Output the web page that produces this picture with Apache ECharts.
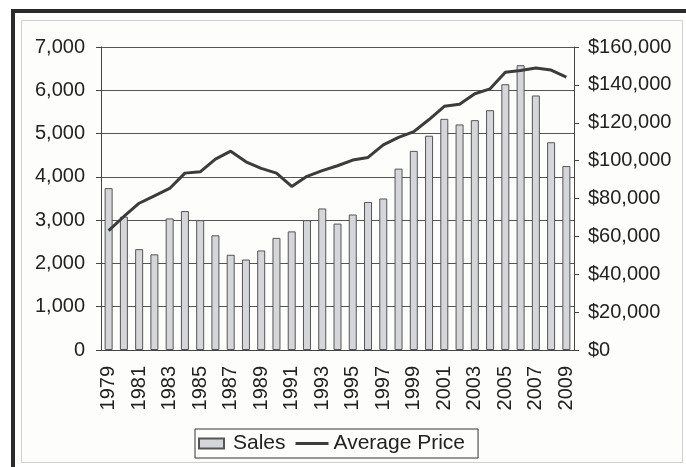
<!DOCTYPE html>
<html>
<head>
<meta charset="utf-8">
<script src="https://cdn.jsdelivr.net/npm/echarts@6/dist/echarts.min.js"></script>
<style>
html,body{margin:0;padding:0;background:#fff;}
#chart{width:686px;height:467px;}
</style>
</head>
<body>
<div id="chart"></div>
<script>
const years = ['1979','1980','1981','1982','1983','1984','1985','1986','1987','1988','1989','1990','1991','1992','1993','1994','1995','1996','1997','1998','1999','2000','2001','2002','2003','2004','2005','2006','2007','2008','2009'];
const sales = [3740,3080,2330,2210,3040,3210,3000,2650,2200,2090,2300,2590,2740,3000,3270,2920,3130,3420,3500,4190,4600,4950,5340,5210,5310,5540,6140,6580,5880,4800,4250];
const avgPrice = [63000,70500,77500,81400,85300,93400,94100,100800,105000,99400,95900,93400,86400,91700,94700,97300,100300,101700,108300,112300,115300,121700,128700,129800,135300,137900,146700,147600,148900,147800,144100];
const salesTicks = {min:0, max:7000, interval:1000};
const priceTicks = {min:0, max:160000, interval:20000};

const fmt = v => String(v).replace(/\B(?=(\d{3})+(?!\d))/g, ',');
const FONT = '"Liberation Sans", Arial, sans-serif';

const chart = echarts.init(document.getElementById('chart'), null, {renderer:'canvas'});
chart.setOption({
  animation:false,
  backgroundColor:'#ffffff',
  graphic:[
    {type:'rect', z:-10, shape:{x:11,y:9,width:680,height:4}, style:{fill:'#2b2b2b'}},
    {type:'rect', z:-10, shape:{x:11,y:9,width:4,height:470}, style:{fill:'#2b2b2b'}},
    {type:'rect', z:-10, shape:{x:21.5,y:20.5,width:661,height:442}, style:{fill:'#fdfdfb', stroke:'#cfcfcf', lineWidth:1}}
  ],
  grid:{left:101, right:112, top:47, bottom:117, containLabel:false},
  legend:{
    bottom:9, left:195,
    padding:[4,13,4,3],
    borderColor:'#333', borderWidth:1,
    itemWidth:33, itemHeight:10, itemGap:10,
    textStyle:{fontFamily:FONT, fontSize:21, color:'#222'},
    data:[
      {name:'Sales', icon:'path://M0,0L25,0L25,10L0,10Z'},
      {name:'Average Price', icon:'path://M0,0L33,0L33,3L0,3Z'}
    ]
  },
  xAxis:{
    type:'category', data:years, boundaryGap:true,
    axisLine:{lineStyle:{color:'#444', width:1}},
    axisTick:{interval:0, length:5, lineStyle:{color:'#444'}},
    axisLabel:{interval:1, rotate:90, margin:16, fontFamily:FONT, fontSize:20, color:'#222'},
    splitLine:{show:false}
  },
  yAxis:[
    {type:'value', min:salesTicks.min, max:salesTicks.max, interval:salesTicks.interval, position:'left',
     axisLine:{show:true, lineStyle:{color:'#444'}},
     axisTick:{show:true, length:5, lineStyle:{color:'#444'}},
     axisLabel:{margin:16, fontFamily:FONT, fontSize:20, color:'#222', formatter:v=>fmt(v)},
     splitLine:{show:true, lineStyle:{color:'#555', width:1}}},
    {type:'value', min:priceTicks.min, max:priceTicks.max, interval:priceTicks.interval, position:'right',
     axisLine:{show:true, lineStyle:{color:'#444'}},
     axisTick:{show:true, length:5, lineStyle:{color:'#444'}},
     axisLabel:{margin:14, fontFamily:FONT, fontSize:20, color:'#222', formatter:v=>'$'+fmt(v)},
     splitLine:{show:false}}
  ],
  series:[
    {name:'Sales', type:'bar', data:sales, yAxisIndex:0, barWidth:8,
     itemStyle:{color:'#d5d6da', borderColor:'#555', borderWidth:1}},
    {name:'Average Price', type:'line', data:avgPrice, yAxisIndex:1, symbol:'none',
     lineStyle:{color:'#3c3c3c', width:3}, itemStyle:{color:'#3c3c3c'}}
  ]
});
</script>
</body>
</html>
